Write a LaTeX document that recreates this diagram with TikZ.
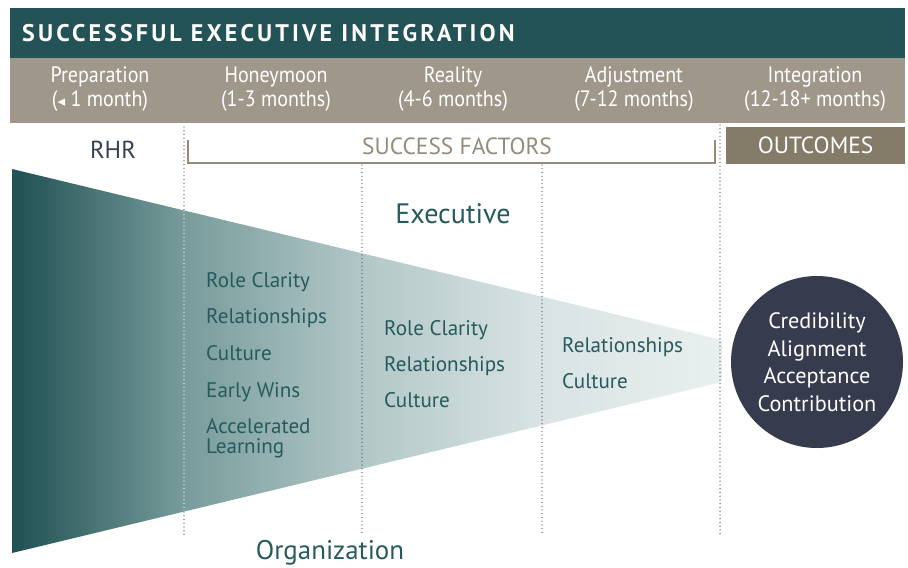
\documentclass[tikz,border=0pt]{standalone}
\usepackage{fontspec}
\setmainfont{PT Sans}
\newfontfamily\condfont{PT Sans}[FakeStretch=0.9]
\newfontfamily\titlefont{PT Sans}[LetterSpace=13]
\newfontfamily\symfont{DejaVu Sans}
\usetikzlibrary{positioning}

\definecolor{titlebar}{HTML}{235257}
\definecolor{phasebar}{HTML}{A0978B}
\definecolor{outcomebox}{HTML}{857B69}
\definecolor{bracketcol}{HTML}{958B7B}
\definecolor{tealtext}{HTML}{275A5C}
\definecolor{navy}{HTML}{363B4E}
\definecolor{rhrcol}{HTML}{37404F}
\definecolor{dotcol}{HTML}{3C4150}
\definecolor{funnelL}{HTML}{1F5052}
\definecolor{funnelA}{HTML}{789B9B}
\definecolor{funnelB}{HTML}{B2C7C7}
\definecolor{funnelC}{HTML}{D9E3E3}
\definecolor{funnelR}{HTML}{E9EFEF}
\pgfdeclarehorizontalshading{funnelshade}{100bp}{color(0bp)=(funnelL); color(25bp)=(funnelL);
  color(37.1bp)=(funnelA); color(49.6bp)=(funnelB); color(62.3bp)=(funnelC);
  color(75bp)=(funnelR); color(100bp)=(funnelR)}

\begin{document}
\begin{tikzpicture}[x=0.3mm, y=-0.3mm,
    every node/.style={inner sep=0pt},
    phase/.style={text=white, align=center, font=\condfont\fontsize{19}{20.5}\selectfont},
    factor/.style={anchor=base west, text=tealtext, align=left, font=\fontsize{18}{16.6}\selectfont},
    divider/.style={draw=dotcol, line width=1.1pt, dash pattern=on 0pt off 3.2pt, line cap=round}]
  \useasboundingbox (0,0) rectangle (908,567);

  % Barras
  \fill[titlebar] (10,8) rectangle (905,58);
  \fill[phasebar] (10,58) rectangle (905,123);
  \node[anchor=base west, text=white, font=\titlefont\bfseries\fontsize{20.5}{24}\selectfont] (title) at (22,41) {SUCCESSFUL EXECUTIVE INTEGRATION};

  % Fases
  \node[phase] (prep) at (100,89) {Preparation\\({\symfont\fontsize{13}{13}\selectfont ◂} 1 month)};
  \node[phase] (honey) at (276,89) {Honeymoon\\(1-3 months)};
  \node[phase] (real) at (453,89) {Reality\\(4-6 months)};
  \node[phase] (adj) at (634,89) {Adjustment\\(7-12 months)};
  \node[phase] (integ) at (815,89) {Integration\\(12-18+ months)};

  % Cabeceras
  \node[text=rhrcol, font=\fontsize{21}{24}\selectfont] (rhr) at (113,150) {RHR};
  \draw[bracketcol, line width=1.3pt] (188,140) |- (715,163) -- (715,140);
  \node[text=bracketcol, font=\fontsize{20}{22}\selectfont] (sf) at (457,146) {SUCCESS FACTORS};
  \node[fill=outcomebox, minimum width=53.7mm, minimum height=11.1mm, text=white,
        font=\fontsize{20}{22}\selectfont] (outc) at (815.5,145.5) {OUTCOMES};

  % Embudo
  \shade[shading=funnelshade] (12,169) -- (722,340) -- (722,382) -- (12,553) -- cycle;

  % Divisiones
  \coordinate (d1top) at (184,127);
  \coordinate (d1a) at (184,211);
  \coordinate (d1b) at (184,512);
  \coordinate (d1bot) at (184,535);
  \coordinate (d2top) at (362,165);
  \coordinate (d2bot) at (362,535);
  \coordinate (d3top) at (542,165);
  \coordinate (d3bot) at (542,535);
  \coordinate (d4top) at (720,125);
  \coordinate (d4bot) at (720,535);
  \draw[divider] (d1top) -- (d1a);
  \draw[divider, draw=white] (d1a) -- (d1b);
  \draw[divider] (d1b) -- (d1bot);
  \draw[divider] (d2top) -- (d2bot);
  \draw[divider] (d3top) -- (d3bot);
  \draw[divider] (d4top) -- (d4bot);

  % Ejes
  \node[anchor=base, text=tealtext, font=\fontsize{24}{28}\selectfont] (exec) at (453,223) {Executive};
  \node[anchor=base, text=tealtext, font=\fontsize{23}{28}\selectfont] (org) at (330,559) {Organization};

  % Factores
  \node[factor] (rc1) at (206,287) {Role Clarity};
  \node[factor] (rel1) at (206,323) {Relationships};
  \node[factor] (cul1) at (206,360) {Culture};
  \node[factor] (ew1) at (206,397) {Early Wins};
  \node[factor] (al1) at (206,453) {Accelerated\\Learning};
  \node[factor] (rc2) at (384,335) {Role Clarity};
  \node[factor] (rel2) at (384,371) {Relationships};
  \node[factor] (cul2) at (384,407) {Culture};
  \node[factor] (rel3) at (562,352) {Relationships};
  \node[factor] (cul3) at (562,388) {Culture};

  % Resultado
  \node[circle, fill=navy, minimum size=51.6mm, text=white, align=center,
        font=\fontsize{19}{23.5}\selectfont] (result) at (817,362)
        {Credibility\\Alignment\\Acceptance\\Contribution};
\end{tikzpicture}
\end{document}
